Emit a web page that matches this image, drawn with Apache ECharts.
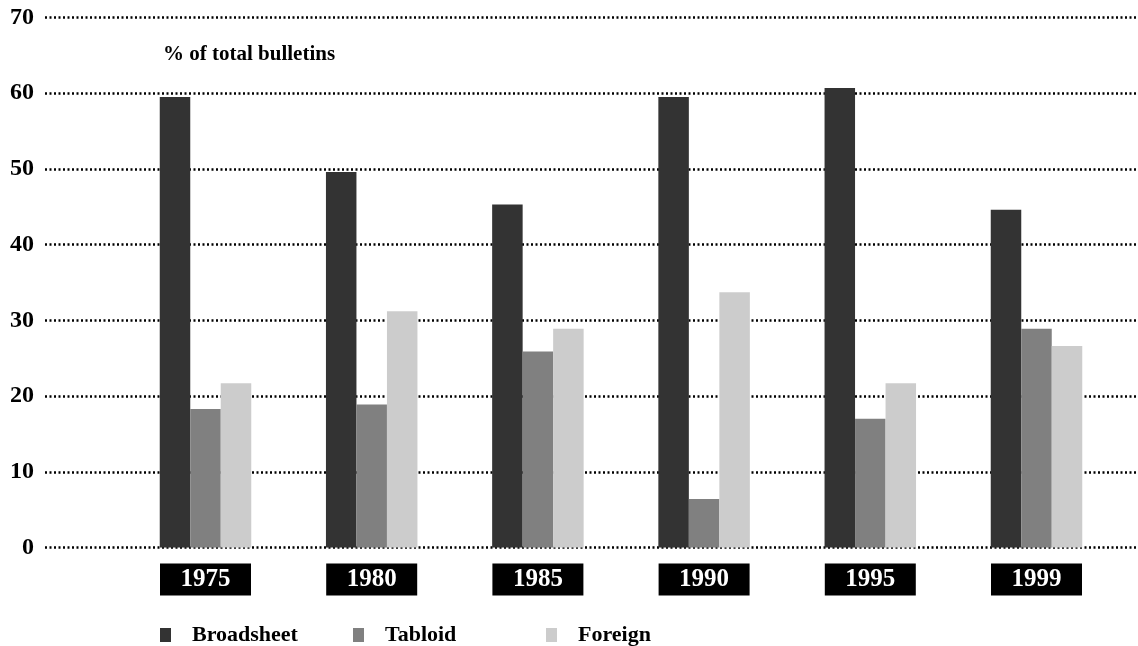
<!DOCTYPE html>
<html>
<head>
<meta charset="utf-8">
<script src="https://cdn.jsdelivr.net/npm/echarts@6/dist/echarts.min.js"></script>
<style>
  html, body { margin: 0; padding: 0; background: #fff; }
  #chart { width: 1138px; height: 646px; }
</style>
</head>
<body>
<div id="chart"></div>
<script>
// dados
const years = ["1975", "1980", "1985", "1990", "1995", "1999"];
const broadsheet = [59.5, 49.6, 45.3, 59.5, 60.7, 44.6];
const tabloid = [18.3, 18.9, 25.9, 6.4, 17.0, 28.9];
const foreign = [21.7, 31.2, 28.9, 33.7, 21.7, 26.6];
const yTicks = { min: 0, max: 70, interval: 10 };

const serif = "'Liberation Serif', 'Times New Roman', serif";
const colors = ["#333333", "#808080", "#cccccc"];

const chart = echarts.init(document.getElementById("chart"));

// uma legenda por série, para espaçamento fixo
const legendNames = ["Broadsheet", "Tabloid", "Foreign"];
const legends = legendNames.map((name, i) => ({
    data: [name],
    left: 160 + i * 193,
    top: 624,
    padding: 0,
    icon: "rect",
    itemWidth: 11,
    itemHeight: 14,
    itemGap: 0,
    selectedMode: false,
    textStyle: {
        fontFamily: serif,
        fontWeight: "bold",
        fontSize: 22,
        lineHeight: 22,
        color: "#000",
        padding: [0, 0, 0, 16],
    },
}));

const makeBar = (name, data, i) => ({
    name: name,
    type: "bar",
    xAxisIndex: 1,
    yAxisIndex: 1,
    data: data,
    barWidth: 30.5,
    barGap: "0%",
    itemStyle: { color: colors[i] },
});

chart.setOption({
    animation: false,
    backgroundColor: "#fff",
    legend: legends,
    title: {
        text: "% of total bulletins",
        left: 163,
        top: 44,
        padding: 0,
        textStyle: {
            fontFamily: serif,
            fontWeight: "bold",
            fontSize: 21,
            color: "#000",
        },
    },
    grid: [
        // grade larga só para as linhas pontilhadas e rótulos do eixo y
        { left: 45, right: 0, top: 17.5, bottom: 98.5 },
        // grade das barras
        { left: 122.4, right: 18.4, top: 17.5, bottom: 98.5 },
    ],
    xAxis: [
        { type: "category", gridIndex: 0, data: years, show: false },
        {
            type: "category",
            gridIndex: 1,
            data: years,
            axisLine: { show: false },
            axisTick: { show: false },
            axisLabel: {
                margin: 16,
                color: "#fff",
                backgroundColor: "#000",
                width: 91,
                height: 32,
                lineHeight: 32,
                align: "center",
                fontFamily: serif,
                fontWeight: "bold",
                fontSize: 25,
            },
        },
    ],
    yAxis: [
        {
            type: "value",
            gridIndex: 0,
            min: yTicks.min,
            max: yTicks.max,
            interval: yTicks.interval,
            axisLine: { show: false },
            axisTick: { show: false },
            axisLabel: {
                margin: 11,
                color: "#000",
                fontFamily: serif,
                fontWeight: "bold",
                fontSize: 24,
            },
            splitLine: {
                show: true,
                lineStyle: { color: "#000", width: 2.5, type: [2, 2.5] },
            },
        },
        {
            type: "value",
            gridIndex: 1,
            min: yTicks.min,
            max: yTicks.max,
            interval: yTicks.interval,
            show: false,
            splitLine: { show: false },
        },
    ],
    series: [
        makeBar("Broadsheet", broadsheet, 0),
        makeBar("Tabloid", tabloid, 1),
        makeBar("Foreign", foreign, 2),
    ],
});
</script>
</body>
</html>
